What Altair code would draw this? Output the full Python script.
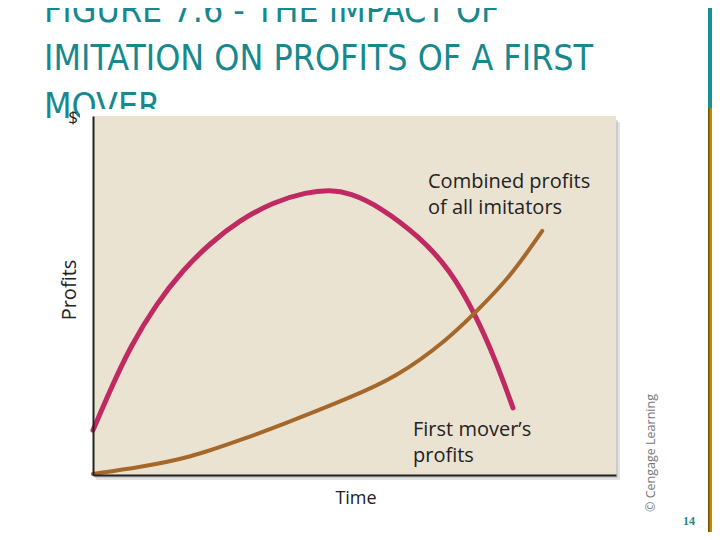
import altair as alt
import pandas as pd

# Combined profits of all imitators (time, profit), 0-100 units
imit_time = [0, 3.3, 7.1, 12.2, 17.2, 22.4, 28.1, 34.4, 40.9, 45.3, 49.1, 54.9, 62.5, 68.3, 73.0, 77.2, 80.3]
imit_profit = [12.5, 23.7, 35.7, 47.9, 57.1, 64.6, 71.0, 76.0, 78.8, 79.4, 78.6, 74.7, 66.3, 57.1, 45.1, 31.2, 18.7]

# First mover's profits
fm_time = [0, 9.0, 18.5, 28.7, 35.8, 49.1, 58.1, 67.7, 73.0, 79.7, 85.9]
fm_profit = [0.3, 2.2, 4.8, 10.0, 13.8, 21.5, 27.3, 37.6, 45.1, 55.0, 68.0]

series_names = ["Combined profits of all imitators", "First mover's profits"]
series_colors = ["#c02a62", "#a5682a"]

title_lines = ["FIGURE 7.6 - THE IMPACT OF", "IMITATION ON PROFITS OF A FIRST", "MOVER"]
imit_label = ["Combined profits", "of all imitators"]
fm_label = ["First mover\u2019s", "profits"]
y_title = "Profits"
y_unit = "$"
x_title = "Time"
credit = "\u00a9 Cengage Learning"
page_no = "14"

W, H = 523, 359
TEAL = "#17898e"
LABEL_FONT = "Open Sans"

df = pd.concat([
    pd.DataFrame({"time": imit_time, "profit": imit_profit, "series": series_names[0]}),
    pd.DataFrame({"time": fm_time, "profit": fm_profit, "series": series_names[1]}),
])

one = pd.DataFrame({"k": [0]})


def box(x, x2, y, y2, fill, opacity=1.0):
    return alt.Chart(one).mark_rect(fill=fill, opacity=opacity).encode(
        x=alt.value(x), x2=alt.value(x2), y=alt.value(y), y2=alt.value(y2)
    )


def label(text, x, y, size=19, color="#222222", font=LABEL_FONT, angle=0,
          align="left", baseline="middle", weight="normal"):
    return alt.Chart(pd.DataFrame({"t": [text]})).mark_text(
        fontSize=size, color=color, font=font, angle=angle, align=align,
        baseline=baseline, fontWeight=weight
    ).encode(text="t:N", x=alt.value(x), y=alt.value(y))


title_font = "Liberation Sans Narrow, DejaVu Sans Condensed, sans-serif"
titles = [
    label(t, -49, -94 + 48 * i, size=35.5, color=TEAL, font=title_font, baseline="alphabetic")
    for i, t in enumerate(title_lines)
]

# white picture area that hides the bottom of the last title line
cover = box(-13, 547, -7, 424, "white")
shadow1 = box(3, W + 4, 6, H + 5, "#c8c8c8", 0.5)
shadow2 = box(2, W + 2, 4, H + 3, "#b0b0b0", 0.45)
panel = box(0, W, 0, H, "#ebe3d2")

axis_style = dict(domain=True, domainColor="#222222", domainWidth=2, ticks=False,
                  labels=False, grid=False, title=None, zindex=1)

lines = alt.Chart(df).mark_line(interpolate="basis", strokeCap="round").encode(
    x=alt.X("time:Q", scale=alt.Scale(domain=[0, 100], nice=False), axis=alt.Axis(**axis_style)),
    y=alt.Y("profit:Q", scale=alt.Scale(domain=[0, 100], nice=False), axis=alt.Axis(**axis_style)),
    color=alt.Color("series:N", scale=alt.Scale(domain=series_names, range=series_colors), legend=None),
    strokeWidth=alt.StrokeWidth("series:N", scale=alt.Scale(domain=series_names, range=[5, 4]), legend=None),
    detail="series:N",
)

texts = [
    label(imit_label[0], 335, 66, size=20),
    label(imit_label[1], 335, 92, size=20),
    label(fm_label[0], 320, 314, size=20),
    label(fm_label[1], 320, 340, size=20),
    label(y_title, -23, 174, size=20, angle=270, align="center"),
    label(y_unit, -20, 2, size=17, align="center"),
    label(x_title, 263, 383, size=18, align="center"),
    label(credit, 558, 337, size=12.5, color="#777777", angle=270, align="center"),
    label(page_no, 596, 405, size=12, color=TEAL, font="Liberation Serif", align="center", weight="bold"),
]

side_bar = [
    box(615, 627, -116, -8, "#1a8f95"),
    box(615, 627, -8, 424, "#c08a05"),
    box(615, 616.5, -8, 424, "#6e5200"),
]

chart = alt.layer(
    *titles, cover, shadow1, shadow2, panel, lines, *texts, *side_bar
).properties(
    width=W, height=H,
    padding={"left": 85, "top": 108, "right": 96, "bottom": 57},
    autosize="none",
    background="white",
).configure_view(stroke=None)

chart.save("out.html", embed_options={"renderer": "svg", "actions": False})
